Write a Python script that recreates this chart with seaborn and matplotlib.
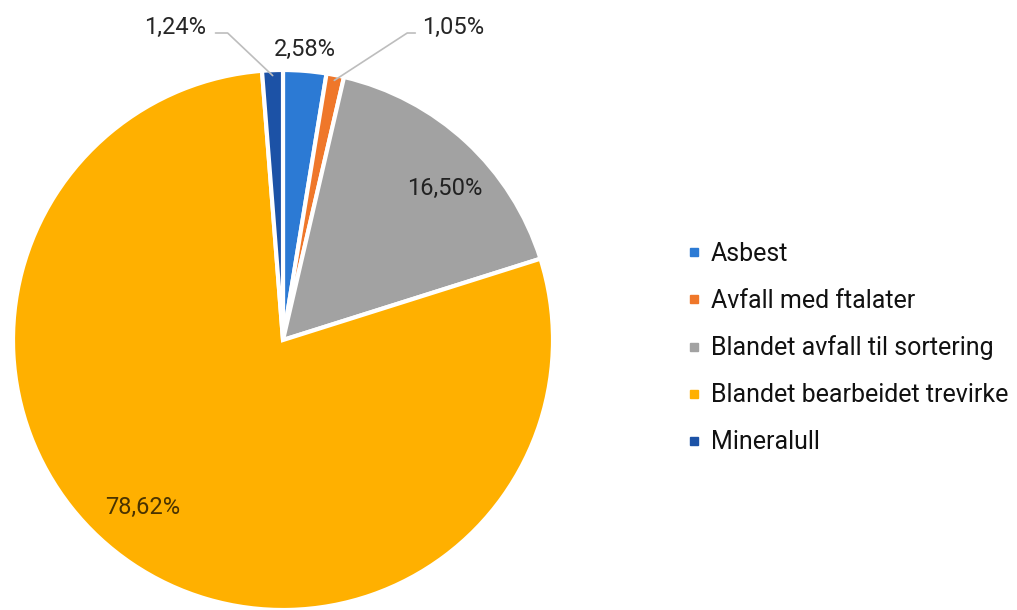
import numpy as np
import matplotlib
matplotlib.use("Agg")
import matplotlib.pyplot as plt
import seaborn as sns
from matplotlib.lines import Line2D

# --- data ---
categories = [
    "Asbest",
    "Avfall med ftalater",
    "Blandet avfall til sortering",
    "Blandet bearbeidet trevirke",
    "Mineralull",
]
shares = [2.58, 1.05, 16.50, 78.62, 1.24]
value_labels = ["2,58%", "1,05%", "16,50%", "78,62%", "1,24%"]

colors = sns.color_palette(["#2C7AD4", "#EF772A", "#A2A2A2", "#FFB000", "#1C52A6"])

# label positions (data units, pie radius = 1)
label_pos = [(0.08, 1.075), (0.63, 1.157), (0.60, 0.563), (-0.52, -0.62), (-0.40, 1.157)]
label_col = ["#262626", "#262626", "#222222", "#4a3300", "#262626"]
# leader lines: elbow points for the small outside labels
leaders = {1: [(0.49, 1.137), (0.46, 1.137)], 4: [(-0.25, 1.137), (-0.205, 1.137)]}

sns.set_theme(style="white")
plt.rcParams["font.family"] = ["Roboto", "DejaVu Sans"]

W, H = 1017, 610
fig = plt.figure(figsize=(W / 100, H / 100), dpi=100)
# pie centre at (283, 340) px from top-left, radius 270 px
cx, cy, r = 283, 340, 270
ax_w = 566
ax = fig.add_axes([0, 0, ax_w / W, 1])

wedges, _ = ax.pie(
    shares,
    colors=colors,
    startangle=90,
    counterclock=False,
    wedgeprops=dict(edgecolor="white", linewidth=3),
)
ax.set_aspect("auto")
ax.set_xlim(-cx / r, (ax_w - cx) / r)
ax.set_ylim((cy - H) / r, cy / r)
ax.axis("off")

for i, w in enumerate(wedges):
    x, y = label_pos[i]
    ax.text(x, y, value_labels[i], ha="center", va="center",
            fontsize=17, color=label_col[i], clip_on=False)
    if i in leaders:
        ang = np.deg2rad((w.theta1 + w.theta2) / 2)
        ex, ey = 0.98 * np.cos(ang), 0.98 * np.sin(ang)
        pts = leaders[i] + [(ex, ey)]
        ax.plot([p[0] for p in pts], [p[1] for p in pts],
                color="#bdbdbd", lw=1.2, clip_on=False)

handles = [Line2D([0], [0], marker="s", linestyle="", markersize=6,
                  markerfacecolor=c, markeredgecolor=c) for c in colors]
fig.legend(handles, categories, loc="center left",
           bbox_to_anchor=(676 / W, 1 - 348 / H), frameon=False,
           fontsize=18, handlelength=0.6, handletextpad=0.4,
           labelspacing=0.92, borderaxespad=0, labelcolor="#111111")

fig.savefig("out.png", dpi=100, facecolor="white")
